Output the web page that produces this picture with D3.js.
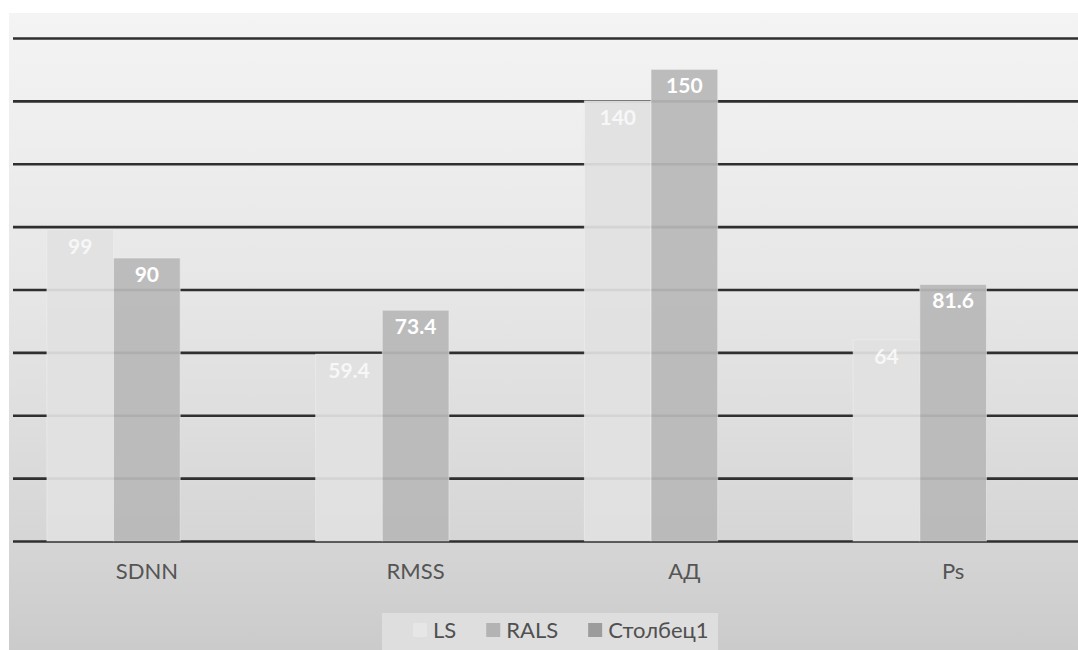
<!DOCTYPE html>
<html>
<head>
<meta charset="utf-8">
<script src="https://cdn.jsdelivr.net/npm/d3@7"></script>
<style>
  html, body { margin: 0; padding: 0; background: #fff; }
  svg { display: block; }
</style>
</head>
<body>
<svg id="chart" width="1078" height="650"></svg>
<script>
// Data
const categories = ['SDNN', 'RMSS', 'АД', 'Ps'];
const seriesNames = ['LS', 'RALS', 'Столбец1'];
const lsValues = [99, 59.4, 140, 64];
const ralsValues = [90, 73.4, 150, 81.6];
const col1Values = [null, null, null, null];   // empty third column
const yTicks = [0, 20, 40, 60, 80, 100, 120, 140, 160];

const seriesValues = [lsValues, ralsValues, col1Values];
const barFill = ['#e1e1e1', '#b8b8b8', '#a3a3a3'];
const legendFill = ['#e6e6e6', '#b3b3b3', '#9c9c9c'];
const labelFill = ['#f7f7f7', '#ffffff', '#ffffff'];

const W = 1078, H = 650;
const svg = d3.select('#chart');

// Background panel with soft vertical gradient
const defs = svg.append('defs');
const grad = defs.append('linearGradient')
  .attr('id', 'bg').attr('x1', 0).attr('y1', 0).attr('x2', 0).attr('y2', 1);
grad.append('stop').attr('offset', '0%').attr('stop-color', '#f4f4f4');
grad.append('stop').attr('offset', '45%').attr('stop-color', '#e6e6e6');
grad.append('stop').attr('offset', '82%').attr('stop-color', '#d6d6d6');
grad.append('stop').attr('offset', '100%').attr('stop-color', '#cbcbcb');

svg.append('rect')
  .attr('x', 9).attr('y', 13)
  .attr('width', W - 9).attr('height', H - 13)
  .attr('fill', 'url(#bg)');

// Scales
const x0 = d3.scaleBand()
  .domain(categories)
  .range([12.5, 1087.5])
  .paddingInner(0.256)
  .paddingOuter(0.128);

const x1 = d3.scaleBand()
  .domain(seriesNames)
  .range([0, x0.bandwidth()]);

const y = d3.scaleLinear().domain([0, 160]).range([541, 38]);

// Gridlines (drawn first, bars sit on top slightly translucent)
const grid = svg.append('g')
  .attr('transform', 'translate(0,0)')
  .call(d3.axisLeft(y).tickValues(yTicks).tickSize(-(W - 13)).tickFormat(''))
  .attr('transform', 'translate(13,0)');
grid.select('.domain').remove();
grid.selectAll('.tick line')
  .attr('stroke', '#2f2f2f')
  .attr('stroke-width', 2.6);

// Bars
const rows = categories.map((c, i) => ({
  cat: c,
  vals: seriesNames.map((s, k) => ({ s, k, v: seriesValues[k][i] }))
}));

const groups = svg.append('g').selectAll('g')
  .data(rows)
  .join('g')
  .attr('transform', d => `translate(${x0(d.cat)},0)`);

groups.selectAll('rect')
  .data(d => d.vals.filter(e => e.v != null))
  .join('rect')
  .attr('x', d => x1(d.s))
  .attr('width', x1.bandwidth())
  .attr('y', d => y(d.v))
  .attr('height', d => y(0) - y(d.v))
  .attr('fill', d => barFill[d.k])
  .attr('fill-opacity', 0.93)
  .attr('stroke', '#f2f2f2')
  .attr('stroke-opacity', 0.5)
  .attr('stroke-width', 1);

groups.selectAll('text')
  .data(d => d.vals.filter(e => e.v != null))
  .join('text')
  .attr('x', d => x1(d.s) + x1.bandwidth() / 2)
  .attr('y', d => y(d.v) + 24)
  .attr('text-anchor', 'middle')
  .attr('font-family', 'Lato, "Open Sans", sans-serif')
  .attr('font-weight', 'bold')
  .attr('font-size', 21)
  .attr('fill', d => labelFill[d.k])
  .text(d => d.v);

// Category axis
const xAxis = svg.append('g')
  .attr('transform', `translate(0,${y(0)})`)
  .call(d3.axisBottom(x0).tickSize(0).tickPadding(22));
xAxis.select('.domain').remove();
xAxis.selectAll('text')
  .attr('font-family', 'Lato, "Open Sans", sans-serif')
  .attr('font-size', 22)
  .attr('fill', '#555555');

// Legend
svg.append('rect')
  .attr('x', 382).attr('y', 613)
  .attr('width', 336).attr('height', 37)
  .attr('fill', '#dedede');

const legend = svg.append('g').attr('transform', 'translate(413,0)');
let lx = 0;
seriesNames.forEach((name, k) => {
  const item = legend.append('g').attr('transform', `translate(${lx},0)`);
  item.append('rect')
    .attr('x', 0).attr('y', 623)
    .attr('width', 14).attr('height', 14)
    .attr('fill', legendFill[k]);
  const t = item.append('text')
    .attr('x', 20).attr('y', 638)
    .attr('font-family', 'Lato, "Open Sans", sans-serif')
    .attr('font-size', 22)
    .attr('fill', '#505050')
    .text(name);
  lx += 20 + t.node().getComputedTextLength() + 30;
});
</script>
</body>
</html>
